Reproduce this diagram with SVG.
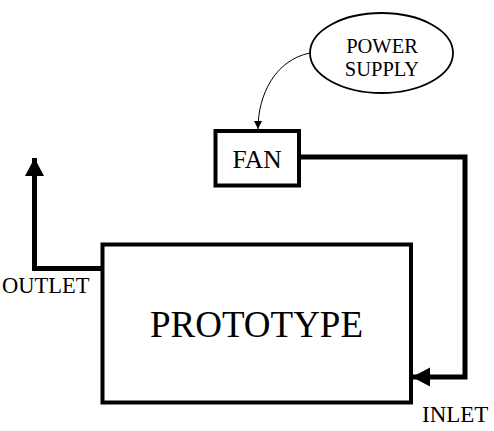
<svg xmlns="http://www.w3.org/2000/svg" width="494" height="431" viewBox="0 0 494 431">
<style>
text{font-family:"Liberation Serif","Times New Roman",serif;fill:#000}
.box{fill:#fff;stroke:#000;stroke-width:4}
.pipe{fill:none;stroke:#000;stroke-width:5;stroke-linejoin:miter}
.thin{fill:none;stroke:#000;stroke-width:1}
</style>
<defs>
<marker id="big" markerUnits="userSpaceOnUse" markerWidth="20" markerHeight="20" refX="18" refY="9.5" orient="auto" viewBox="0 0 20 19">
<path d="M0,0 L18,9.5 L0,19 Z" fill="#000"/>
</marker>
<marker id="small" markerUnits="userSpaceOnUse" markerWidth="8" markerHeight="8" refX="7" refY="3.5" orient="auto" viewBox="0 0 7 7">
<path d="M0,0 L7,3.5 L0,7 Z" fill="#000"/>
</marker>
</defs>
<g id="connectors">
<path class="pipe" d="M102,268.5 L34.5,268.5 L34.5,158" marker-end="url(#big)"/>
<path class="pipe" d="M299,157 L465,157 L465,377 L412,377" marker-end="url(#big)"/>
<path class="thin" d="M310,53 C275,60 258,95 258,129" marker-end="url(#small)"/>
</g>
<g id="prototype">
<rect class="box" x="102.5" y="244.5" width="308.5" height="158"/>
<text x="256.5" y="336.5" font-size="37" text-anchor="middle">PROTOTYPE</text>
</g>
<g id="fan">
<rect class="box" x="215.5" y="131" width="83.5" height="54.5"/>
<text x="257" y="167.5" font-size="25.5" text-anchor="middle">FAN</text>
</g>
<g id="power-supply">
<ellipse cx="381.5" cy="53" rx="71.5" ry="40" fill="#fff" stroke="#000" stroke-width="1.8"/>
<text x="382" y="53" font-size="20.5" text-anchor="middle">POWER</text>
<text x="382" y="76" font-size="20.5" text-anchor="middle">SUPPLY</text>
</g>
<g id="labels">
<text x="2" y="293" font-size="22.5">OUTLET</text>
<text x="422" y="422" font-size="23">INLET</text>
</g>
</svg>
